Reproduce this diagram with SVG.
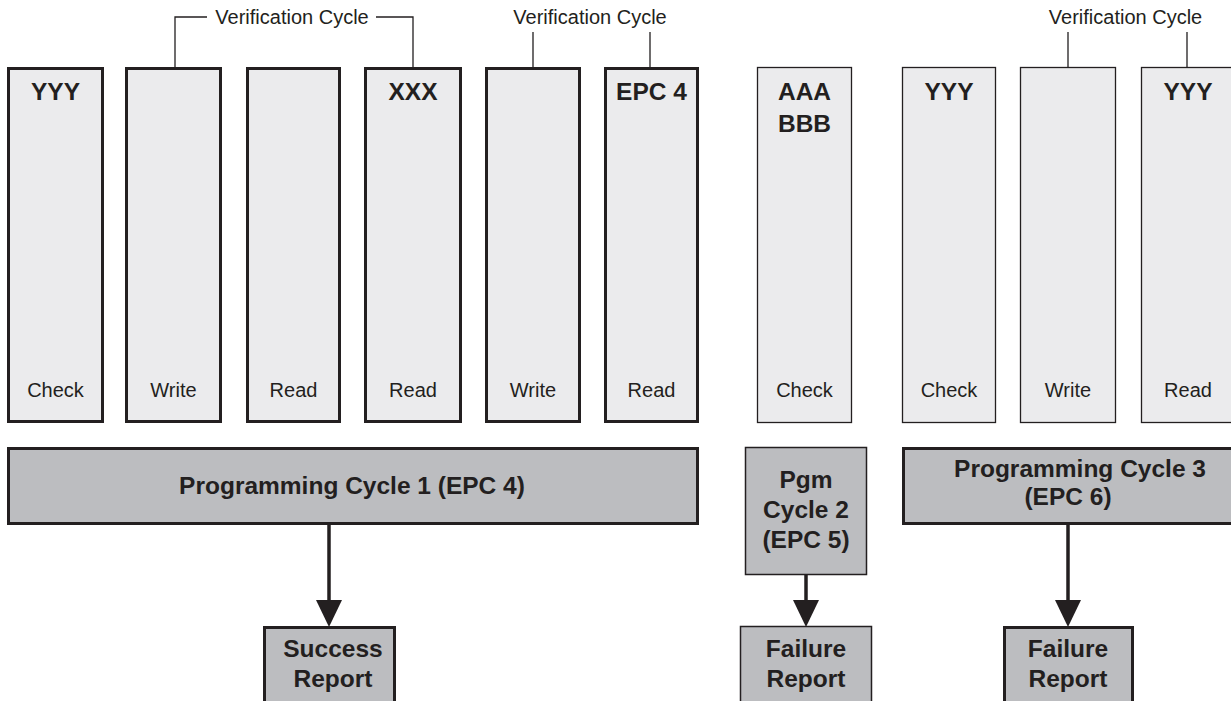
<svg xmlns="http://www.w3.org/2000/svg" width="1231" height="701" viewBox="0 0 1231 701">
<defs>
<style>
text{font-family:"Liberation Sans",Arial,Helvetica,sans-serif;fill:#231f20;text-anchor:middle}
.b{font-weight:bold;font-size:24.5px}
.n{font-size:20px}
.lt{fill:#ebebed;stroke:#231f20;stroke-width:3}
.lt1{fill:#ebebed;stroke:#231f20;stroke-width:1.3}
.gr{fill:#bcbdc0;stroke:#231f20;stroke-width:3}
.gr1{fill:#bcbdc0;stroke:#231f20;stroke-width:1.5}
.br{fill:none;stroke:#231f20;stroke-width:1.3}
.ar{fill:none;stroke:#231f20;stroke-width:3.5}
</style>
<marker id="ah" markerUnits="userSpaceOnUse" markerWidth="27" markerHeight="26" refX="0" refY="13" orient="auto" viewBox="0 0 27 26">
<path d="M0,0 L27,13 L0,26 Z" fill="#231f20"/>
</marker>
</defs>
<rect width="1231" height="701" fill="#ffffff"/>

<g id="brackets">
<path class="br" d="M175,67 V17 H207 M376,17 H413 V67"/>
<text class="n" x="292" y="24">Verification Cycle</text>
<path class="br" d="M533,32 V67 M650,32 V67"/>
<text class="n" x="590" y="24">Verification Cycle</text>
<path class="br" d="M1068,32 V67 M1187,32 V67"/>
<text class="n" x="1125.5" y="24">Verification Cycle</text>
</g>

<g id="box1"><rect class="lt" x="8.5" y="68.5" width="94" height="353"/><text class="b" x="55.5" y="100">YYY</text><text class="n" x="55.5" y="397">Check</text></g>
<g id="box2"><rect class="lt" x="126.5" y="68.5" width="94" height="353"/><text class="n" x="173.5" y="397">Write</text></g>
<g id="box3"><rect class="lt" x="247.5" y="68.5" width="92" height="353"/><text class="n" x="293.5" y="397">Read</text></g>
<g id="box4"><rect class="lt" x="365.5" y="68.5" width="95" height="353"/><text class="b" x="413" y="100">XXX</text><text class="n" x="413" y="397">Read</text></g>
<g id="box5"><rect class="lt" x="486.5" y="68.5" width="93" height="353"/><text class="n" x="533" y="397">Write</text></g>
<g id="box6"><rect class="lt" x="605.5" y="68.5" width="92" height="353"/><text class="b" x="651.5" y="100">EPC 4</text><text class="n" x="651.5" y="397">Read</text></g>
<g id="box7"><rect class="lt1" x="757.5" y="67.5" width="94" height="355"/><text class="b" x="804.5" y="100">AAA</text><text class="b" x="804.5" y="132">BBB</text><text class="n" x="804.5" y="397">Check</text></g>
<g id="box8"><rect class="lt1" x="902.5" y="67.5" width="93" height="355"/><text class="b" x="949" y="100">YYY</text><text class="n" x="949" y="397">Check</text></g>
<g id="box9"><rect class="lt1" x="1020.5" y="67.5" width="95" height="355"/><text class="n" x="1068" y="397">Write</text></g>
<g id="box10"><rect class="lt1" x="1141.5" y="67.5" width="95" height="355"/><text class="b" x="1188" y="100">YYY</text><text class="n" x="1188" y="397">Read</text></g>

<g id="pgm1"><rect class="gr" x="8.5" y="448.5" width="689" height="75"/><text class="b" x="352" y="494">Programming Cycle 1 (EPC 4)</text></g>
<g id="pgm2"><rect class="gr1" x="745.5" y="447.5" width="121" height="127"/><text class="b" x="806" y="488">Pgm</text><text class="b" x="806" y="518">Cycle 2</text><text class="b" x="806" y="548">(EPC 5)</text></g>
<g id="pgm3"><rect class="gr" x="903.5" y="448.5" width="340" height="75"/><text class="b" x="1080" y="477">Programming Cycle 3</text><text class="b" x="1068" y="505">(EPC 6)</text></g>

<g id="connectors">
<line class="ar" x1="329" y1="525" x2="329" y2="600" marker-end="url(#ah)"/>
<line class="ar" x1="806" y1="575" x2="806" y2="600" marker-end="url(#ah)"/>
<line class="ar" x1="1068" y1="525" x2="1068" y2="600" marker-end="url(#ah)"/>
</g>

<g id="success"><rect class="gr" x="264.5" y="627.5" width="130" height="80"/><text class="b" x="333" y="657">Success</text><text class="b" x="333" y="687">Report</text></g>
<g id="failure1"><rect class="gr1" x="740.5" y="626.5" width="131" height="80"/><text class="b" x="806" y="657">Failure</text><text class="b" x="806" y="687">Report</text></g>
<g id="failure2"><rect class="gr" x="1004.5" y="627.5" width="128" height="80"/><text class="b" x="1068" y="657">Failure</text><text class="b" x="1068" y="687">Report</text></g>
</svg>
